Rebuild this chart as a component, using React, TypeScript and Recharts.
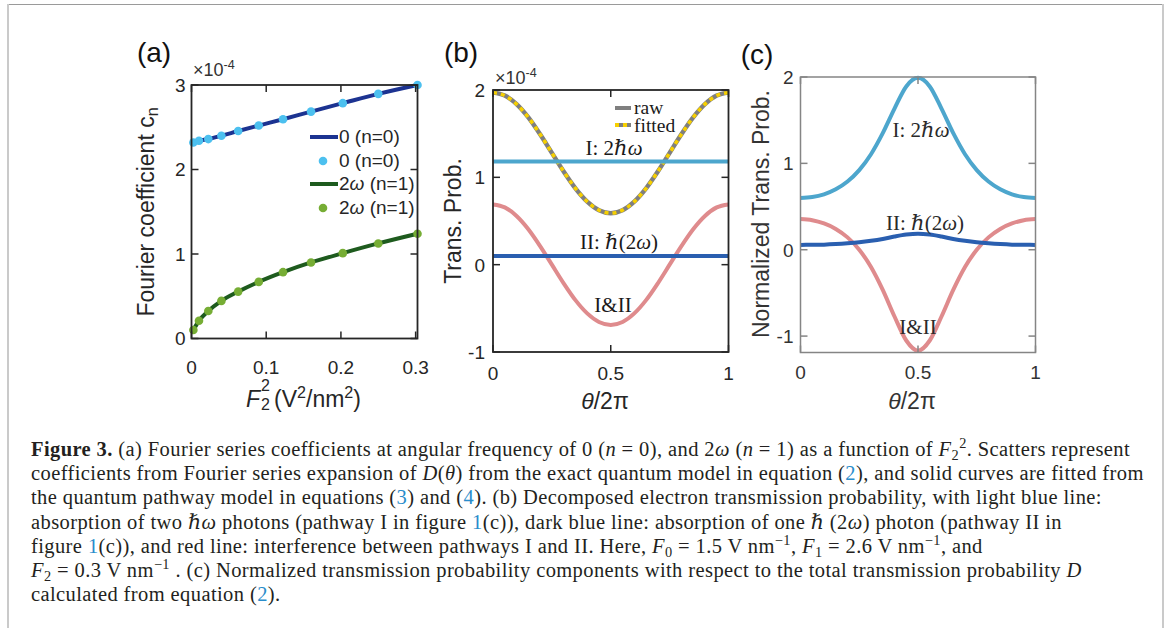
import React from 'react';
import { ComposedChart, Line, Scatter, XAxis, YAxis, ReferenceLine } from 'recharts';

const SANS = '"Liberation Sans", Arial, sans-serif';
const SERIF = '"Liberation Serif", "DejaVu Serif", serif';
const TL = 7; // inward tick length
const YAXIS_W = 40;
const XAXIS_H = 30;

// (a) Fourier coefficients vs F2^2
const f2sq = [0.0025, 0.01, 0.0225, 0.04, 0.0625, 0.09, 0.1225, 0.16, 0.2025, 0.25, 0.3025];
const c0 = [2.32, 2.34, 2.36, 2.4, 2.455, 2.52, 2.595, 2.685, 2.785, 2.895, 3.0];
const c1 = [0.1, 0.21, 0.325, 0.445, 0.555, 0.67, 0.785, 0.9, 1.01, 1.125, 1.24];
const aXTicks = [0, 0.1, 0.2, 0.3];
const aYTicks = [0, 1, 2, 3];

// (b) decomposed transmission probability (x1e-4)
const theta = [0, 0.05, 0.1, 0.15, 0.2, 0.25, 0.3, 0.35, 0.4, 0.45, 0.5, 0.55, 0.6, 0.65, 0.7, 0.75, 0.8, 0.85, 0.9, 0.95, 1];
const rawD = [1.97, 1.936, 1.838, 1.686, 1.493, 1.28, 1.067, 0.874, 0.722, 0.624, 0.59, 0.624, 0.722, 0.874, 1.067, 1.28, 1.493, 1.686, 1.838, 1.936, 1.97];
const fittedD = [1.97, 1.936, 1.838, 1.686, 1.493, 1.28, 1.067, 0.874, 0.722, 0.624, 0.59, 0.624, 0.722, 0.874, 1.067, 1.28, 1.493, 1.686, 1.838, 1.936, 1.97];
const interfB = [0.69, 0.656, 0.558, 0.406, 0.213, 0, -0.213, -0.406, -0.558, -0.656, -0.69, -0.656, -0.558, -0.406, -0.213, 0, 0.213, 0.406, 0.558, 0.656, 0.69];
const pathI = 1.18;
const pathII = 0.1;
const thetaTicks = [0, 0.5, 1];
const bYTicks = [-1, 0, 1, 2];

// (c) normalized components
const normI = [0.599, 0.61, 0.642, 0.7, 0.79, 0.922, 1.106, 1.35, 1.634, 1.891, 1.99, 1.891, 1.634, 1.35, 1.106, 0.922, 0.79, 0.7, 0.642, 0.61, 0.599];
const normII = [0.056, 0.057, 0.059, 0.065, 0.074, 0.086, 0.103, 0.125, 0.153, 0.176, 0.186, 0.176, 0.153, 0.125, 0.103, 0.086, 0.074, 0.065, 0.059, 0.057, 0.056];
const normBoth = [0.355, 0.342, 0.304, 0.241, 0.143, 0, -0.2, -0.465, -0.773, -1.051, -1.17, -1.051, -0.773, -0.465, -0.2, 0, 0.143, 0.241, 0.304, 0.342, 0.355];
const cYTicks = [-1, 0, 1, 2];

const aRows = f2sq.map((x, i) => ({ x, c0: c0[i], c1: c1[i] }));
const bRows = theta.map((x, i) => ({ x, raw: rawD[i], fitted: fittedD[i], both: interfB[i] }));
const cRows = theta.map((x, i) => ({ x, nI: normI[i], nII: normII[i], nBoth: normBoth[i] }));

type Sty = { ink: string; box: string; font: number; gapY: number; gapX: number; boxW: number };
type Margin = { top: number; right: number; bottom: number; left: number };

function makeLeftTick(s: Sty) {
  return (p: any) => (
    <text x={p.x} y={p.y} dy="0.36em" textAnchor="end" fontSize={s.font} fontFamily={SANS} fill={s.ink}>
      {p.payload.value}
    </text>
  );
}
function makeBottomTick(s: Sty) {
  return (p: any) => (
    <text x={p.x} y={p.y} dy="0.71em" textAnchor="middle" fontSize={s.font} fontFamily={SANS} fill={s.ink}>
      {p.payload.value}
    </text>
  );
}

const styA: Sty = { ink: '#262626', box: '#262626', font: 19, gapY: 6, gapX: 22, boxW: 1.8 };
const styB: Sty = { ink: '#262626', box: '#262626', font: 19, gapY: 8, gapX: 15, boxW: 1.8 };
const styC: Sty = { ink: '#333333', box: '#858585', font: 19, gapY: 7, gapX: 13, boxW: 1.5 };

const mA: Margin = { top: 25, right: 22.5, bottom: 21.5, left: 51.5 };
const mB: Margin = { top: 30, right: 21.5, bottom: 8, left: 33 };
const mC: Margin = { top: 17, right: 24.5, bottom: 7.5, left: 30.5 };

// MATLAB-style axes box with inward ticks on all four sides, laid over the plot area
function AxesBox({ w, h, m, s, xDomain, xTicks, yDomain, yTicks }: any) {
  const L = m.left + YAXIS_W;
  const T = m.top;
  const W = w - m.left - m.right - YAXIS_W;
  const H = h - m.top - m.bottom - XAXIS_H;
  const sx = (v: number) => L + ((v - xDomain[0]) / (xDomain[1] - xDomain[0])) * W;
  const sy = (v: number) => T + ((yDomain[1] - v) / (yDomain[1] - yDomain[0])) * H;
  const st = { stroke: s.box, strokeWidth: 1.5 };
  return (
    <svg width={w} height={h} style={{ position: 'absolute', left: 0, top: 0, pointerEvents: 'none', zIndex: 2 }}>
      {xTicks.map((v: number) => (
        <g key={`x${v}`}>
          <line x1={sx(v)} x2={sx(v)} y1={T + H} y2={T + H - TL} {...st} />
          <line x1={sx(v)} x2={sx(v)} y1={T} y2={T + TL} {...st} />
        </g>
      ))}
      {yTicks.map((v: number) => (
        <g key={`y${v}`}>
          <line x1={L} x2={L + TL} y1={sy(v)} y2={sy(v)} {...st} />
          <line x1={L + W} x2={L + W - TL} y1={sy(v)} y2={sy(v)} {...st} />
        </g>
      ))}
      <rect x={L} y={T} width={W} height={H} fill="none" stroke={s.box} strokeWidth={s.boxW} />
    </svg>
  );
}

const dot = (fill: string) => (p: any) => <circle cx={p.cx} cy={p.cy} r={4.3} fill={fill} />;

function Txt({ x, y, children, size = 21, font = SERIF, color = '#1a1a1a', rot = false, anchor = 'center' }: any) {
  const tx = anchor === 'left' ? '0' : '-50%';
  return (
    <div
      style={{
        position: 'absolute', left: x, top: y, whiteSpace: 'nowrap', lineHeight: 1, fontSize: size,
        fontFamily: font, color, transform: `translate(${tx}, -50%)${rot ? ' rotate(-90deg)' : ''}`,
        transformOrigin: rot ? 'center' : undefined,
      }}
    >
      {children}
    </div>
  );
}

const sub = (t: string) => <sub style={{ fontSize: '0.7em', lineHeight: 0, verticalAlign: '-0.3em' }}>{t}</sub>;
const sup = (t: string) => <sup style={{ fontSize: '0.7em', lineHeight: 0, verticalAlign: '0.55em' }}>{t}</sup>;
const link = (t: string) => <span style={{ color: '#2a8dcb' }}>{t}</span>;

function Sample({ color, w = 4, dash, bg, len = 28 }: any) {
  return (
    <svg width={len} height={10} style={{ display: 'block' }}>
      {bg && <line x1={0} x2={len} y1={5} y2={5} stroke={bg} strokeWidth={w} />}
      <line x1={0} x2={len} y1={5} y2={5} stroke={color} strokeWidth={w} strokeDasharray={dash} />
    </svg>
  );
}
function DotSample({ color }: any) {
  return (
    <svg width={28} height={10} style={{ display: 'block' }}>
      <circle cx={13} cy={5} r={4.3} fill={color} />
    </svg>
  );
}

const NAVY = '#1c3391';
const DGREEN = '#1e5b1e';
const LBLUE_DOT = '#4cc0ef';
const LGREEN_DOT = '#76ad34';
const GRAY = '#7f7f7f';
const YELLOW = '#f7d000';
const PI_BLUE = '#4da6cd';
const PII_BLUE = '#2a5fb0';
const RED = '#df8b8d';

export default function App() {
  const capLine = { whiteSpace: 'nowrap' as const, height: 24.2 };
  return (
    <div style={{ position: 'absolute', left: 0, top: 0, width: 1167, height: 628, background: '#fff', overflow: 'hidden' }}>
      {/* page frame */}
      <div style={{ position: 'absolute', left: 7, top: 4, width: 1157, height: 1, background: '#9a9a9a' }} />
      <div style={{ position: 'absolute', left: 7, top: 4, width: 2, height: 624, background: '#cacaca' }} />
      <div style={{ position: 'absolute', left: 1162, top: 4, width: 2, height: 624, background: '#cacaca' }} />

      {/* (a) */}
      <div style={{ position: 'absolute', left: 100, top: 60, width: 340, height: 330 }}>
        <ComposedChart width={340} height={330} data={aRows} margin={mA}>
          <XAxis dataKey="x" type="number" domain={[0, 0.3025]} ticks={aXTicks} height={XAXIS_H}
            tickSize={0} tickMargin={styA.gapX} tickLine={false} axisLine={false} tick={makeBottomTick(styA)} />
          <YAxis type="number" domain={[0, 3]} ticks={aYTicks} width={YAXIS_W}
            tickSize={0} tickMargin={styA.gapY} tickLine={false} axisLine={false} tick={makeLeftTick(styA)} />
          <Line dataKey="c0" type="monotone" stroke={NAVY} strokeWidth={4} dot={false} isAnimationActive={false} />
          <Line dataKey="c1" type="monotone" stroke={DGREEN} strokeWidth={4} dot={false} isAnimationActive={false} />
          <Scatter dataKey="c0" fill={LBLUE_DOT} shape={dot(LBLUE_DOT)} isAnimationActive={false} />
          <Scatter dataKey="c1" fill={LGREEN_DOT} shape={dot(LGREEN_DOT)} isAnimationActive={false} />
        </ComposedChart>
        <AxesBox w={340} h={330} m={mA} s={styA} xDomain={[0, 0.3025]} xTicks={aXTicks} yDomain={[0, 3]} yTicks={aYTicks} />
      </div>
      <Txt x={154} y={53} size={28} font={SANS} color="#111">(a)</Txt>
      <Txt x={193} y={70} size={18} font={SANS} color="#333" anchor="left">×10{sup('-4')}</Txt>
      <Txt x={146} y={212} size={23} font={SANS} color="#262626" rot>
        Fourier coefficient c{sub('n')}
      </Txt>
      <div style={{ position: 'absolute', left: 246, top: 387.5, fontFamily: SANS, fontSize: 23, lineHeight: 1, color: '#262626', whiteSpace: 'nowrap' }}>
        <i>F</i>
        <span style={{ position: 'relative', display: 'inline-block', width: 14 }}>
          <span style={{ position: 'absolute', left: 1, top: -29, fontSize: 16, lineHeight: 1 }}>2</span>
          <span style={{ position: 'absolute', left: 1, top: -10, fontSize: 16, lineHeight: 1 }}>2</span>
        </span>
        (V{sup('2')}/nm{sup('2')})
      </div>
      <div style={{ position: 'absolute', left: 310, top: 125.5, fontFamily: SANS, fontSize: 19, color: '#262626' }}>
        {[
          [<Sample color={NAVY} />, <>0 (n=0)</>],
          [<DotSample color={LBLUE_DOT} />, <>0 (n=0)</>],
          [<Sample color={DGREEN} />, <>2<i>ω</i> (n=1)</>],
          [<DotSample color={LGREEN_DOT} />, <>2<i>ω</i> (n=1)</>],
        ].map(([s, t], i) => (
          <div key={i} style={{ height: 23.5, display: 'flex', alignItems: 'center', whiteSpace: 'nowrap' }}>
            {s}
            <span style={{ marginLeft: 1 }}>{t}</span>
          </div>
        ))}
      </div>

      {/* (b) */}
      <div style={{ position: 'absolute', left: 420, top: 60, width: 330, height: 330 }}>
        <ComposedChart width={330} height={330} data={bRows} margin={mB}>
          <XAxis dataKey="x" type="number" domain={[0, 1]} ticks={thetaTicks} height={XAXIS_H}
            tickSize={0} tickMargin={styB.gapX} tickLine={false} axisLine={false} tick={makeBottomTick(styB)} />
          <YAxis type="number" domain={[-1, 2]} ticks={bYTicks} width={YAXIS_W}
            tickSize={0} tickMargin={styB.gapY} tickLine={false} axisLine={false} tick={makeLeftTick(styB)} />
          <Line dataKey="both" type="monotone" stroke={RED} strokeWidth={4} dot={false} isAnimationActive={false} />
          <Line dataKey="raw" type="monotone" stroke={GRAY} strokeWidth={4.5} dot={false} isAnimationActive={false} />
          <Line dataKey="fitted" type="monotone" stroke={YELLOW} strokeWidth={3.5} strokeDasharray="4 4" dot={false} isAnimationActive={false} />
          <ReferenceLine y={pathI} stroke={PI_BLUE} strokeWidth={4} />
          <ReferenceLine y={pathII} stroke={PII_BLUE} strokeWidth={4} />
        </ComposedChart>
        <AxesBox w={330} h={330} m={mB} s={styB} xDomain={[0, 1]} xTicks={thetaTicks} yDomain={[-1, 2]} yTicks={bYTicks} />
      </div>
      <Txt x={461} y={53} size={28} font={SANS} color="#111">(b)</Txt>
      <Txt x={495} y={78} size={18} font={SANS} color="#333" anchor="left">×10{sup('-4')}</Txt>
      <Txt x={453} y={221} size={23} font={SANS} color="#262626" rot>Trans. Prob.</Txt>
      <Txt x={605} y={401} size={23} font={SANS} color="#262626"><i>θ</i>/2π</Txt>
      <div style={{ position: 'absolute', left: 615, top: 99, fontFamily: SERIF, fontSize: 19.5, lineHeight: 1, color: '#1a1a1a' }}>
        <div style={{ height: 17.5, display: 'flex', alignItems: 'center' }}>
          <Sample color={GRAY} len={16} />
          <span style={{ marginLeft: 3 }}>raw</span>
        </div>
        <div style={{ height: 17.5, display: 'flex', alignItems: 'center' }}>
          <Sample color={YELLOW} bg={GRAY} dash="4 4" len={16} />
          <span style={{ marginLeft: 3 }}>fitted</span>
        </div>
      </div>
      <Txt x={614} y={148}>I: 2<i>ℏω</i></Txt>
      <Txt x={619} y={242}>II: <i>ℏ</i>(2<i>ω</i>)</Txt>
      <Txt x={613} y={305}>I&amp;II</Txt>

      {/* (c) */}
      <div style={{ position: 'absolute', left: 730, top: 60, width: 330, height: 330 }}>
        <ComposedChart width={330} height={330} data={cRows} margin={mC}>
          <XAxis dataKey="x" type="number" domain={[0, 1]} ticks={thetaTicks} height={XAXIS_H}
            tickSize={0} tickMargin={styC.gapX} tickLine={false} axisLine={false} tick={makeBottomTick(styC)} />
          <YAxis type="number" domain={[-1.19, 2]} ticks={cYTicks} width={YAXIS_W}
            tickSize={0} tickMargin={styC.gapY} tickLine={false} axisLine={false} tick={makeLeftTick(styC)} />
          <Line dataKey="nBoth" type="monotone" stroke={RED} strokeWidth={4} dot={false} isAnimationActive={false} />
          <Line dataKey="nII" type="monotone" stroke={PII_BLUE} strokeWidth={4} dot={false} isAnimationActive={false} />
          <Line dataKey="nI" type="monotone" stroke={PI_BLUE} strokeWidth={4} dot={false} isAnimationActive={false} />
        </ComposedChart>
        <AxesBox w={330} h={330} m={mC} s={styC} xDomain={[0, 1]} xTicks={thetaTicks} yDomain={[-1.19, 2]} yTicks={cYTicks} />
      </div>
      <Txt x={757} y={55} size={28} font={SANS} color="#111">(c)</Txt>
      <Txt x={761} y={214} size={23} font={SANS} color="#333" rot>Normalized Trans. Prob.</Txt>
      <Txt x={912} y={401} size={23} font={SANS} color="#333"><i>θ</i>/2π</Txt>
      <Txt x={921} y={130} color="#2a2a2a">I: 2<i>ℏω</i></Txt>
      <Txt x={925} y={223} color="#2a2a2a">II: <i>ℏ</i>(2<i>ω</i>)</Txt>
      <Txt x={918} y={327} color="#2a2a2a">I&amp;II</Txt>

      {/* caption */}
      <div style={{ position: 'absolute', left: 31, top: 437, fontFamily: SERIF, fontSize: 20.5, letterSpacing: 0.4, lineHeight: '24.2px', color: '#231f20' }}>
        <div style={capLine}>
          <b>Figure 3.</b> (a) Fourier series coefficients at angular frequency of 0 (<i>n</i> = 0), and 2<i>ω</i> (<i>n</i> = 1) as a function of <i>F</i>{sub('2')}{sup('2')}. Scatters represent
        </div>
        <div style={capLine}>
          coefficients from Fourier series expansion of <i>D</i>(<i>θ</i>) from the exact quantum model in equation ({link('2')}), and solid curves are fitted from
        </div>
        <div style={capLine}>
          the quantum pathway model in equations ({link('3')}) and ({link('4')}). (b) Decomposed electron transmission probability, with light blue line:
        </div>
        <div style={capLine}>
          absorption of two <i>ℏω</i> photons (pathway I in figure {link('1')}(c)), dark blue line: absorption of one <i>ℏ</i> (2<i>ω</i>) photon (pathway II in
        </div>
        <div style={capLine}>
          figure {link('1')}(c)), and red line: interference between pathways I and II. Here, <i>F</i>{sub('0')} = 1.5 V nm{sup('−1')}, <i>F</i>{sub('1')} = 2.6 V nm{sup('−1')}, and
        </div>
        <div style={capLine}>
          <i>F</i>{sub('2')} = 0.3 V nm{sup('−1')} . (c) Normalized transmission probability components with respect to the total transmission probability <i>D</i>
        </div>
        <div style={capLine}>calculated from equation ({link('2')}).</div>
      </div>
    </div>
  );
}
